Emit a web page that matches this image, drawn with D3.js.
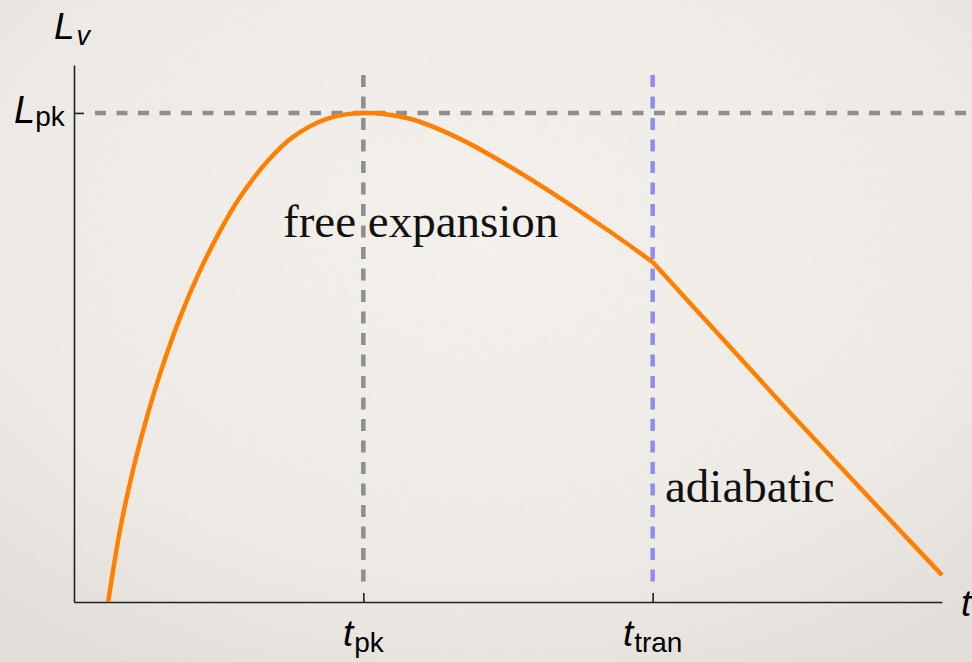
<!DOCTYPE html>
<html>
<head>
<meta charset="utf-8">
<script src="https://cdn.jsdelivr.net/npm/d3@7"></script>
<style>
  html, body { margin: 0; padding: 0; background: #efece7; }
  svg { display: block; }
</style>
</head>
<body>
<svg id="chart" width="972" height="662"></svg>
<script>
// ---- data (t in units of t_pk ; L normalised to L_pk) ----
const tPk = 1.0;
const tTran = 2.0;
const LPk = 1.0;
const tFree = [0.118, 0.159, 0.204, 0.252, 0.297, 0.366, 0.435, 0.505, 0.574, 0.667, 0.757, 0.874, 1.000, 1.161, 1.334, 1.507, 1.680, 1.853, 2.000];
const LFree = [0.000, 0.147, 0.270, 0.378, 0.466, 0.581, 0.677, 0.759, 0.828, 0.900, 0.951, 0.988, 1.000, 0.988, 0.947, 0.890, 0.826, 0.757, 0.695];
const tAdiabatic = [2.000, 2.188, 2.475, 2.820, 3.000];
const LAdiabatic = [0.695, 0.573, 0.387, 0.168, 0.055];
const regionLabels = ["free expansion", "adiabatic"];
const xTickLabels = [["t", "pk"], ["t", "tran"]];
const yTickLabels = [["L", "pk"]];
const axisTitles = { x: "t", y: ["L", "v"] };

const W = 972, H = 662;
const svg = d3.select("#chart");

// background with soft vignette
const defs = svg.append("defs");
const rg = defs.append("radialGradient").attr("id", "bg").attr("cx", "50%").attr("cy", "35%").attr("r", "75%");
rg.append("stop").attr("offset", "0%").attr("stop-color", "#f5f2ed");
rg.append("stop").attr("offset", "70%").attr("stop-color", "#eeebe6");
rg.append("stop").attr("offset", "100%").attr("stop-color", "#e3e0db");
const flt = defs.append("filter").attr("id", "paper").attr("x", 0).attr("y", 0).attr("width", "100%").attr("height", "100%");
flt.append("feTurbulence").attr("type", "fractalNoise").attr("baseFrequency", "0.08 0.25").attr("numOctaves", 3).attr("seed", 4).attr("result", "n");
flt.append("feColorMatrix").attr("type", "matrix").attr("values", "0 0 0 0 0.5  0 0 0 0 0.48  0 0 0 0 0.45  0 0 0 0.06 0");
svg.append("rect").attr("width", W).attr("height", H).attr("fill", "url(#bg)");
svg.append("rect").attr("width", W).attr("height", H).attr("filter", "url(#paper)").attr("opacity", 0.8);

// scales
const x = d3.scaleLinear().domain([0, 3]).range([74, 942]);
const y = d3.scaleLinear().domain([0, 1.098]).range([602, 65]);

// reference lines
svg.append("line")
  .attr("x1", 95).attr("x2", W).attr("y1", y(LPk)).attr("y2", y(LPk))
  .attr("stroke", "#8e8e8e").attr("stroke-width", 4.5).attr("stroke-dasharray", "11 10.5");
svg.append("line")
  .attr("x1", x(tPk)).attr("x2", x(tPk)).attr("y1", 75).attr("y2", 590)
  .attr("stroke", "#8e8e8e").attr("stroke-width", 4.5).attr("stroke-dasharray", "12 9.5");
svg.append("line")
  .attr("x1", x(tTran)).attr("x2", x(tTran)).attr("y1", 75).attr("y2", 590)
  .attr("stroke", "#8d8df0").attr("stroke-width", 4.5).attr("stroke-dasharray", "12 9.5");

// axes
const xAxis = d3.axisBottom(x).tickValues([tPk, tTran]).tickSize(-9).tickSizeOuter(0).tickFormat("");
const yAxis = d3.axisLeft(y).tickValues([LPk]).tickSize(-10).tickSizeOuter(0).tickFormat("");
const gx = svg.append("g").attr("transform", `translate(0,${y(0)})`).call(xAxis);
const gy = svg.append("g").attr("transform", `translate(${x(0)},0)`).call(yAxis);
[gx, gy].forEach(g => {
  g.select(".domain").attr("stroke", "#222").attr("stroke-width", 1.6);
  g.selectAll(".tick line").attr("stroke", "#222").attr("stroke-width", 1.6);
});

// curve
const freePts = tFree.map((t, i) => [t, LFree[i]]);
const adPts = tAdiabatic.map((t, i) => [t, LAdiabatic[i]]);
const lineFree = d3.line().x(d => x(d[0])).y(d => y(d[1])).curve(d3.curveCatmullRom.alpha(0.5));
const lineAd = d3.line().x(d => x(d[0])).y(d => y(d[1])).curve(d3.curveCatmullRom.alpha(0.5));
svg.append("path").datum(freePts)
  .attr("d", lineFree)
  .attr("fill", "none").attr("stroke", "#ff8000").attr("stroke-width", 4.5).attr("stroke-linejoin", "round");
svg.append("path").datum(adPts)
  .attr("d", lineAd)
  .attr("fill", "none").attr("stroke", "#ff8000").attr("stroke-width", 4.5).attr("stroke-linejoin", "round");

// tick labels
const sans = "'Liberation Sans', Arial, Helvetica, sans-serif";
[tPk, tTran].forEach((tv, i) => {
  const tx = svg.append("text").attr("x", x(tv)).attr("y", 646)
    .attr("text-anchor", "middle").attr("font-family", sans).attr("fill", "#000");
  tx.append("tspan").attr("font-size", 37).attr("font-style", "italic").text(xTickLabels[i][0]);
  tx.append("tspan").attr("font-size", 28).attr("dy", 6).attr("dx", 1).text(xTickLabels[i][1]);
});
const ly = svg.append("text").attr("x", 14).attr("y", y(LPk) + 10)
  .attr("font-family", sans).attr("fill", "#000");
ly.append("tspan").attr("font-size", 38).attr("font-style", "italic").text(yTickLabels[0][0]);
ly.append("tspan").attr("font-size", 28).attr("dy", 3).text(yTickLabels[0][1]);

// axis titles
const yt = svg.append("text").attr("x", 54).attr("y", 39).attr("font-family", sans).attr("fill", "#000");
yt.append("tspan").attr("font-size", 37).attr("font-style", "italic").text(axisTitles.y[0]);
yt.append("tspan").attr("font-size", 27).attr("font-style", "italic").attr("dy", 6).attr("dx", 2).text(axisTitles.y[1]);
svg.append("text").attr("x", 961).attr("y", 616).attr("font-family", sans)
  .attr("font-size", 37).attr("font-style", "italic").attr("fill", "#000").text(axisTitles.x);

// region labels
const serif = "'Liberation Serif', 'Times New Roman', serif";
svg.append("text").attr("x", 283).attr("y", 237).attr("font-family", serif)
  .attr("font-size", 47).attr("fill", "#111").text(regionLabels[0]);
svg.append("text").attr("x", 665).attr("y", 502).attr("font-family", serif)
  .attr("font-size", 47).attr("fill", "#111").text(regionLabels[1]);
</script>
</body>
</html>
